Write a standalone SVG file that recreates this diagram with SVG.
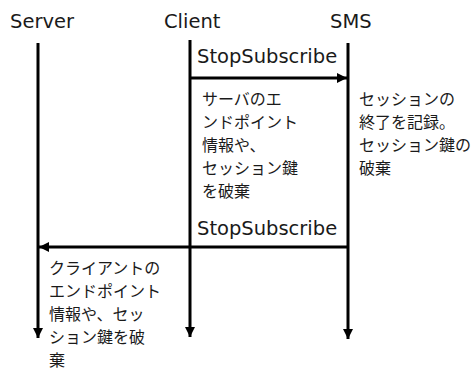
<svg xmlns="http://www.w3.org/2000/svg" width="475" height="370" viewBox="0 0 475 370">
<style>
.lat{font-family:"DejaVu Sans","Verdana",sans-serif;font-size:19.5px;fill:#1a1a1a}
.jp{font-family:"Noto Sans CJK JP",sans-serif;font-size:16px;fill:#1a1a1a}
.ln{stroke:#000;stroke-width:3;fill:none}
</style>
<defs>
<marker id="ah" viewBox="0 0 10 10" refX="10" refY="5" markerWidth="10" markerHeight="10" markerUnits="userSpaceOnUse" orient="auto">
<path d="M0,0 L10,5 L0,10 Z" fill="#000"/>
</marker>
</defs>
<rect width="475" height="370" fill="#fff"/>
<g id="server">
<text class="lat" x="10" y="28">Server</text>
</g>
<g id="client">
<text class="lat" x="164" y="28">Client</text>
</g>
<g id="sms">
<text class="lat" x="330" y="28">SMS</text>
</g>
<g id="connectors">
<line class="ln" x1="38" y1="43" x2="38" y2="338" marker-end="url(#ah)"/>
<line class="ln" x1="190" y1="40" x2="190" y2="337" marker-end="url(#ah)"/>
<line class="ln" x1="348" y1="43" x2="348" y2="339" marker-end="url(#ah)"/>
<line class="ln" x1="190" y1="78" x2="347" y2="78" marker-end="url(#ah)"/>
<line class="ln" x1="348" y1="247" x2="39" y2="247" marker-end="url(#ah)"/>
</g>
<g id="msg1"><text class="lat" x="197" y="63">StopSubscribe</text></g>
<g id="msg2"><text class="lat" x="197" y="235">StopSubscribe</text></g>
<g id="client-note">
<text class="jp" x="202" y="105">サーバのエ</text>
<text class="jp" x="202" y="128">ンドポイント</text>
<text class="jp" x="202" y="151">情報や、</text>
<text class="jp" x="202" y="174">セッション鍵</text>
<text class="jp" x="202" y="197">を破棄</text>
</g>
<g id="sms-note">
<text class="jp" x="359" y="105">セッションの</text>
<text class="jp" x="359" y="128">終了を記録。</text>
<text class="jp" x="359" y="151">セッション鍵の</text>
<text class="jp" x="359" y="174">破棄</text>
</g>
<g id="server-note">
<text class="jp" x="49" y="274">クライアントの</text>
<text class="jp" x="49" y="297">エンドポイント</text>
<text class="jp" x="49" y="320">情報や、セッ</text>
<text class="jp" x="49" y="343">ション鍵を破</text>
<text class="jp" x="49" y="366">棄</text>
</g>
</svg>
